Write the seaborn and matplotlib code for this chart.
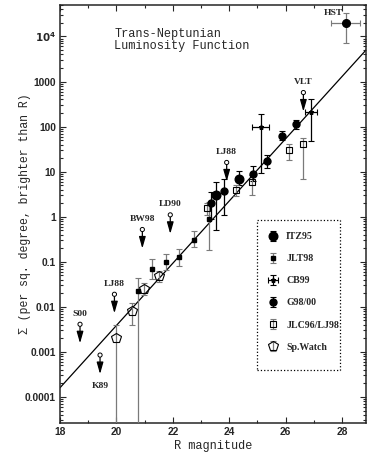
import numpy as np
import pandas as pd
import matplotlib
matplotlib.use("Agg")
import matplotlib.pyplot as plt
from matplotlib.transforms import offset_copy
from matplotlib.patches import Rectangle
from matplotlib.ticker import FixedLocator, FixedFormatter, LogLocator, NullFormatter, MultipleLocator
import seaborn as sns

# ---------------- data ----------------
itz_mag = [23.53, 24.36]
itz_sig = [3.0, 7.0]
itz_hi = [5.8, 10.5]
itz_lo = [0.5, 5.0]

jlt_mag = [20.75, 21.27, 21.75, 22.22, 22.75, 23.27]
jlt_sig = [0.022, 0.07, 0.10, 0.13, 0.31, 0.87]
jlt_hi = [0.044, 0.113, 0.15, 0.19, 0.48, 2.1]
jlt_lo = [1e-6, 0.041, 0.065, 0.08, 0.21, 0.18]

cb_mag = [25.12, 26.9]
cb_sig = [100, 215]
cb_hi = [190, 410]
cb_lo = [9.5, 48]
cb_dmag = [0.3, 0.23]

g98_mag = [23.34, 23.82, 24.83, 25.33, 25.86, 26.36]
g98_sig = [2.0, 3.8, 8.8, 17.0, 62, 115]
g98_hi = [3.5, 7.0, 13.5, 23, 78, 140]
g98_lo = [0.9, 1.1, 6.3, 12, 50, 87]

hst_mag = [28.13]
hst_sig = [20000]
hst_hi = [34000]
hst_lo = [7100]
hst_dmag = [0.52]

jlc_mag = [23.2, 24.23, 24.8, 26.12, 26.6]
jlc_sig = [1.55, 3.9, 6.0, 31, 42]
jlc_hi = [2.0, 5.0, 8.5, 42, 55]
jlc_lo = [1.1, 2.9, 3.0, 18, 7.0]

spw_mag = [20.0, 20.54, 20.98, 21.52]
spw_sig = [0.002, 0.008, 0.0245, 0.048]
spw_hi = [0.004, 0.012, 0.033, 0.062]
spw_lo = [1e-6, 0.004, 0.018, 0.035]

lim_names = ['S00', 'K89', 'LJ88', 'BW98', 'LD90', 'LJ88', 'VLT']
lim_mag = [18.71, 19.42, 19.93, 20.92, 21.91, 23.91, 26.63]
lim_sig = [0.0041, 0.00085, 0.019, 0.52, 1.1, 16, 570]
lim_label_below = [False, True, False, False, False, False, False]

fit_mag = [18.0, 28.85]
fit_sig = [1.6e-4, 5000]

y_ticks = [1e-4, 1e-3, 1e-2, 0.1, 1, 10, 100, 1000, 1e4]
y_ticklabels = ['0.0001', '0.001', '0.01', '0.1', '1', '10', '100', '1000', r'$\mathbf{10^4}$']
x_ticks = [18, 20, 22, 24, 26, 28]

# ---------------- style ----------------
sns.set_style("ticks")
plt.rcParams['font.family'] = ['Liberation Sans', 'DejaVu Sans']

W, H = 367, 457
fig = plt.figure(figsize=(W / 100, H / 100), dpi=100)
ax = fig.add_axes([60 / W, (H - 423.3) / H, 306 / W, 418.3 / H])
ax.set_yscale('log')
ax.set_xlim(18, 28.85)
ax.set_ylim(2.6e-5, 5e4)

GRAY = '#7a7a7a'
common = dict(linestyle='none', capsize=2, capthick=0.8, elinewidth=0.9)

def yerr(sig, lo, hi):
    s = np.asarray(sig, float)
    return [s - np.asarray(lo, float), np.asarray(hi, float) - s]

# fit line
fit_df = pd.DataFrame({'mag': fit_mag, 'sig': fit_sig})
sns.lineplot(data=fit_df, x='mag', y='sig', ax=ax, color='black', lw=0.9, zorder=2)

h_itz = ax.errorbar(itz_mag, itz_sig, yerr=yerr(itz_sig, itz_lo, itz_hi), fmt='o', ms=6.2,
                    color='black', ecolor='black', label='ITZ95', zorder=4, **common)
h_jlt = ax.errorbar(jlt_mag, jlt_sig, yerr=yerr(jlt_sig, jlt_lo, jlt_hi), fmt='s', ms=3.2,
                    color='black', ecolor=GRAY, label='JLT98', zorder=4, **common)
h_cb = ax.errorbar(cb_mag, cb_sig, yerr=yerr(cb_sig, cb_lo, cb_hi), xerr=cb_dmag, fmt='*', ms=3.5,
                   color='black', ecolor='black', label='CB99', zorder=4, **common)
h_g98 = ax.errorbar(g98_mag, g98_sig, yerr=yerr(g98_sig, g98_lo, g98_hi), fmt='o', ms=5,
                    color='black', ecolor='black', label='G98/00', zorder=4, **common)
ax.errorbar(hst_mag, hst_sig, yerr=yerr(hst_sig, hst_lo, hst_hi), xerr=hst_dmag, fmt='o', ms=5.5,
            color='black', ecolor=GRAY, zorder=4, **common)
h_jlc = ax.errorbar(jlc_mag, jlc_sig, yerr=yerr(jlc_sig, jlc_lo, jlc_hi), fmt='s', ms=4.5,
                    mfc='none', mec='black', mew=0.8, ecolor=GRAY, label='JLC96/LJ98', zorder=4, **common)
h_spw = ax.errorbar(spw_mag, spw_sig, yerr=yerr(spw_sig, spw_lo, spw_hi), fmt='p', ms=7.5,
                    mfc='none', mec='black', mew=0.8, ecolor=GRAY, label='Sp.Watch', zorder=4, **common)

# upper limits: small open circles with down arrows
lab_font = dict(family=['Liberation Serif', 'DejaVu Serif'], fontweight='bold', fontsize=6.8)
sns.scatterplot(x=lim_mag, y=lim_sig, ax=ax, marker='o', s=9, facecolor='none',
                edgecolor='black', linewidth=0.7, zorder=5)
for name, m, s, below in zip(lim_names, lim_mag, lim_sig, lim_label_below):
    start = offset_copy(ax.transData, fig=fig, y=-2.5, units='dots')
    end = offset_copy(ax.transData, fig=fig, y=-19, units='dots')
    ax.annotate('', xy=(m, s), xycoords=end, xytext=(m, s), textcoords=start,
                arrowprops=dict(arrowstyle='-|>,head_length=0.7,head_width=0.2',
                                lw=0.9, color='black', shrinkA=0, shrinkB=0))
    if below:
        ax.annotate(name, (m, s), xytext=(0, -22), textcoords='offset points',
                    ha='center', va='center', **lab_font)
    else:
        ax.annotate(name, (m, s), xytext=(0, 7.5), textcoords='offset points',
                    ha='center', va='center', **lab_font)

ax.annotate('HST', (hst_mag[0], hst_sig[0]), xytext=(-9, 7), textcoords='offset points',
            ha='center', va='center', **lab_font)

# title
mono = ['Liberation Mono', 'DejaVu Sans Mono']
ax.text(0.178, 0.945, 'Trans-Neptunian\nLuminosity Function', transform=ax.transAxes,
        family=mono, fontsize=8.6, va='top', ha='left', linespacing=1.05)

# axes labels
ax.set_xlabel('R magnitude', family=mono, fontsize=8.6, labelpad=2)
ax.set_ylabel('Σ (per sq. degree, brighter than R)', family=mono, fontsize=8.3)
ax.yaxis.set_label_coords(-0.095, 0.5)

# ticks
ax.xaxis.set_major_locator(FixedLocator(x_ticks))
ax.xaxis.set_minor_locator(MultipleLocator(1))
ax.yaxis.set_major_locator(FixedLocator(y_ticks))
ax.yaxis.set_major_formatter(FixedFormatter(y_ticklabels))
ax.yaxis.set_minor_locator(LogLocator(base=10, subs=np.arange(2, 10), numticks=30))
ax.yaxis.set_minor_formatter(NullFormatter())
ax.tick_params(which='both', direction='in', top=True, right=True, width=0.8)
ax.tick_params(which='major', length=4.5, labelsize=7.4, pad=3)
ax.tick_params(which='minor', length=2.2)
for lbl in ax.get_xticklabels() + ax.get_yticklabels():
    lbl.set_fontweight('bold')
for sp in ax.spines.values():
    sp.set_linewidth(1.1)
    sp.set_visible(True)

# legend (frame drawn as a dotted box)
leg = ax.legend(handles=[h_itz, h_jlt, h_cb, h_g98, h_jlc, h_spw],
                labels=['ITZ95', 'JLT98', 'CB99', 'G98/00', 'JLC96/LJ98', 'Sp.Watch'],
                loc='upper left', bbox_to_anchor=(0.676, 0.457), frameon=False,
                prop=dict(family=['Liberation Serif', 'DejaVu Serif'], weight='bold', size=7.1),
                labelspacing=1.33, handlelength=1.2, handletextpad=0.75, borderpad=0,
                borderaxespad=0)
ax.add_patch(Rectangle((0.644, 0.127), 0.271, 0.359, transform=ax.transAxes, fill=False,
                       edgecolor='black', linestyle=':', linewidth=0.9, zorder=6))

fig.savefig('out.png', dpi=100)
